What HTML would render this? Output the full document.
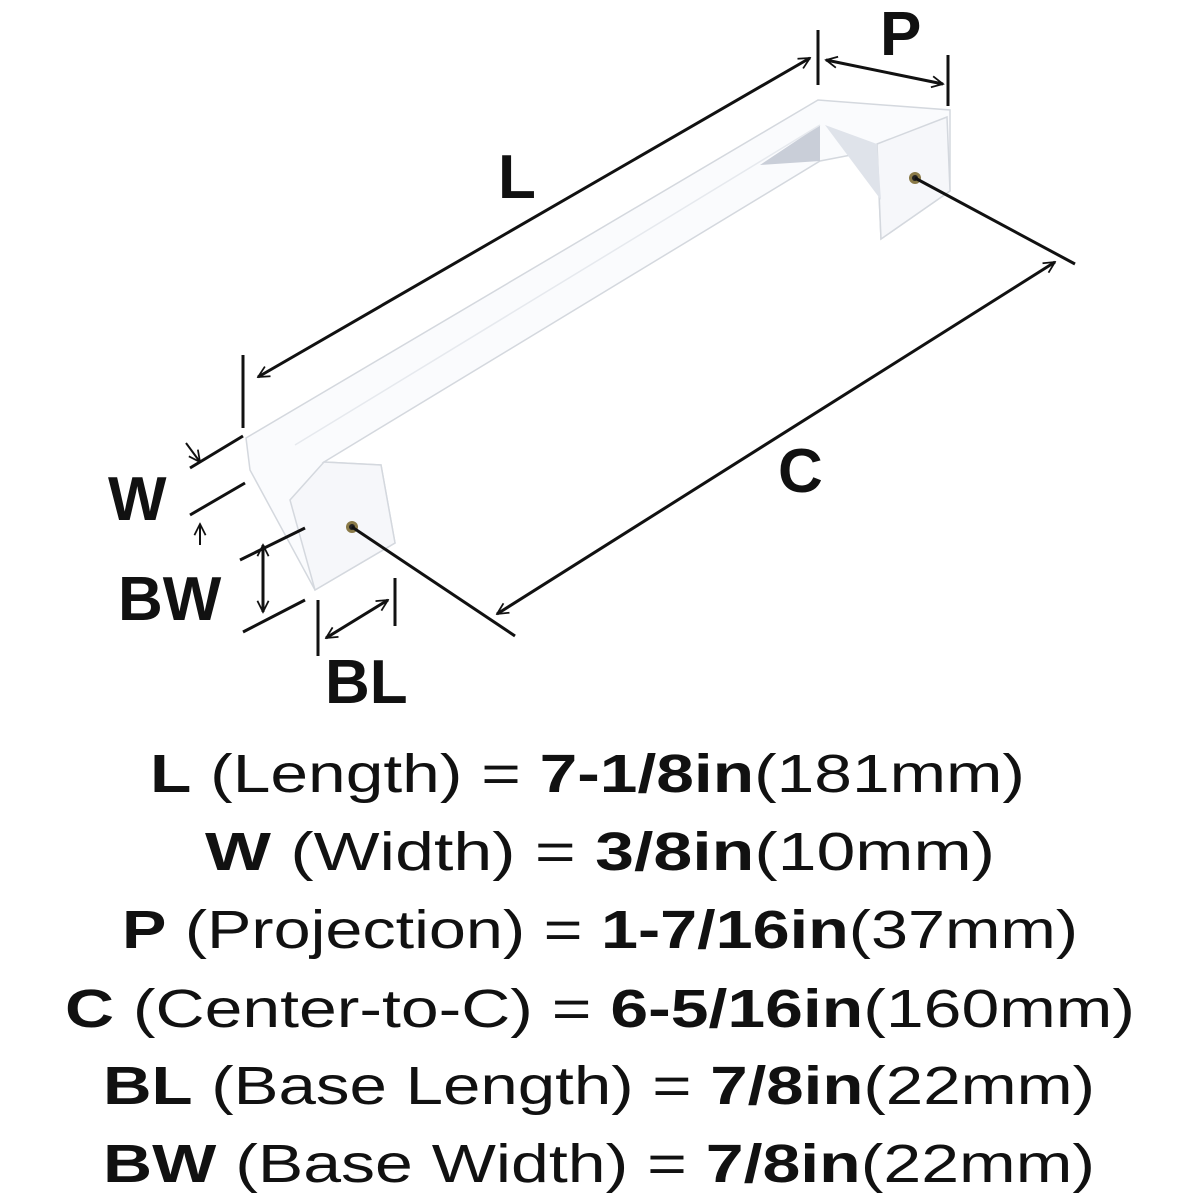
<!DOCTYPE html>
<html><head><style>body{margin:0;background:#fff}svg{display:block}</style></head><body>
<svg width="1200" height="1200" viewBox="0 0 1200 1200" xmlns="http://www.w3.org/2000/svg">
<defs><marker id="a" viewBox="0 0 20 20" refX="18" refY="10" markerWidth="14" markerHeight="14" orient="auto-start-reverse" markerUnits="userSpaceOnUse"><path d="M2 2 L18 10 L2 18" fill="none" stroke="#111" stroke-width="2.5"/></marker></defs>
<g fill="#fafbfd" stroke="#d4d8de" stroke-width="1.5">
<polygon points="246,438 818,100 950,110 950,191 881,239 877,150 820,161 324,462 381,465 395,543 315,590 250,470"/>
<polygon points="324,462 381,465 395,543 315,590 290,500" fill="#f6f7fa"/>
<polygon points="877,144 947,117 950,191 881,239" fill="#f6f7fa"/>
<polygon points="760,165 820,125 820,161" fill="#c9ced8" stroke="none"/>
<polygon points="825,125 877,144 881,200" fill="#dfe3ea" stroke="none"/>
<line x1="295" y1="445" x2="820" y2="125" stroke="#e6e9ee"/>
</g>
<circle cx="352" cy="527" r="6" fill="#8a7a48"/><circle cx="352" cy="527" r="3" fill="#222"/>
<circle cx="915" cy="178" r="6" fill="#8a7a48"/><circle cx="915" cy="178" r="3" fill="#222"/>
<g stroke="#111" stroke-width="3" fill="none">
<line x1="258" y1="377" x2="810" y2="58" marker-start="url(#a)" marker-end="url(#a)"/>
<line x1="243" y1="355" x2="243" y2="428"/>
<line x1="818" y1="30" x2="818" y2="85"/>
<line x1="826" y1="60" x2="943" y2="84" marker-start="url(#a)" marker-end="url(#a)"/>
<line x1="948" y1="55" x2="948" y2="106"/>
<line x1="352" y1="527" x2="515" y2="636"/>
<line x1="915" y1="178" x2="1075" y2="264"/>
<line x1="497" y1="614" x2="1055" y2="262" marker-start="url(#a)" marker-end="url(#a)"/>
<line x1="190" y1="468" x2="243" y2="436"/>
<line x1="190" y1="515" x2="245" y2="483"/>
<line x1="186" y1="443" x2="200" y2="462" marker-end="url(#a)" stroke-width="2"/>
<line x1="200" y1="545" x2="200" y2="524" marker-end="url(#a)" stroke-width="2"/>
<line x1="240" y1="560" x2="305" y2="528"/>
<line x1="243" y1="632" x2="305" y2="600"/>
<line x1="263" y1="545" x2="263" y2="612" marker-start="url(#a)" marker-end="url(#a)"/>
<line x1="318" y1="600" x2="318" y2="656"/>
<line x1="395" y1="578" x2="395" y2="626"/>
<line x1="326" y1="638" x2="388" y2="600" marker-start="url(#a)" marker-end="url(#a)"/>
</g>
<g font-family="Liberation Sans, sans-serif" font-weight="bold" fill="#111" font-size="62">
<text x="498" y="198">L</text>
<text x="880" y="55">P</text>
<text x="778" y="492">C</text>
<text x="108" y="520">W</text>
<text x="118" y="620">BW</text>
<text x="325" y="703">BL</text>
</g>
<g font-family="Liberation Sans, sans-serif" fill="#111" font-size="54">
<text x="150" y="792" textLength="875" lengthAdjust="spacingAndGlyphs"><tspan font-weight="bold">L</tspan> (Length) = <tspan font-weight="bold">7-1/8in</tspan>(181mm)</text>
<text x="205" y="870" textLength="790" lengthAdjust="spacingAndGlyphs"><tspan font-weight="bold">W</tspan> (Width) = <tspan font-weight="bold">3/8in</tspan>(10mm)</text>
<text x="122" y="948" textLength="956" lengthAdjust="spacingAndGlyphs"><tspan font-weight="bold">P</tspan> (Projection) = <tspan font-weight="bold">1-7/16in</tspan>(37mm)</text>
<text x="65" y="1027" textLength="1070" lengthAdjust="spacingAndGlyphs"><tspan font-weight="bold">C</tspan> (Center-to-C) = <tspan font-weight="bold">6-5/16in</tspan>(160mm)</text>
<text x="103" y="1104" textLength="992" lengthAdjust="spacingAndGlyphs"><tspan font-weight="bold">BL</tspan> (Base Length) = <tspan font-weight="bold">7/8in</tspan>(22mm)</text>
<text x="103" y="1182" textLength="992" lengthAdjust="spacingAndGlyphs"><tspan font-weight="bold">BW</tspan> (Base Width) = <tspan font-weight="bold">7/8in</tspan>(22mm)</text>
</g>
</svg>
</body></html>
